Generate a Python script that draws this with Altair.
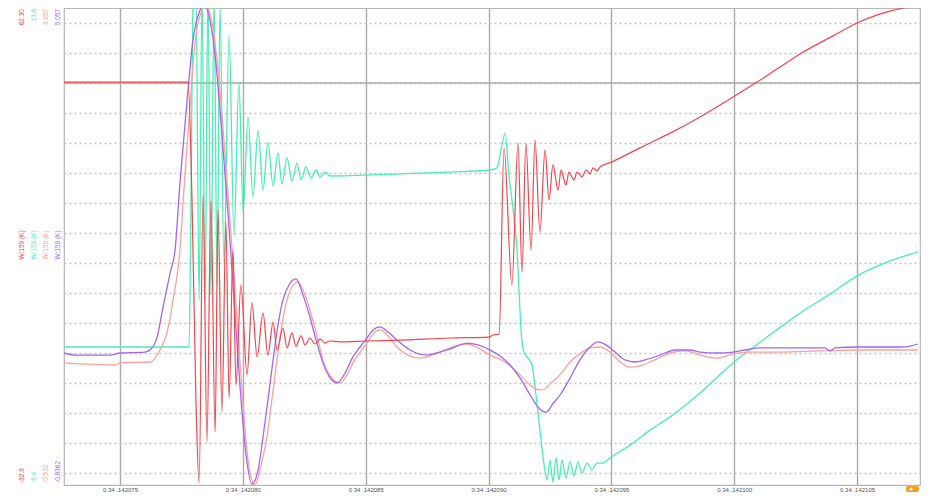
import altair as alt
import pandas as pd

# ---- data (time axis in units of the tick label's last digits, value in grid divisions) ----
red_t = [72.72, 77.73, 77.77, 77.93, 78.09, 78.22, 78.38, 78.54, 78.70, 78.87, 78.99, 79.15, 79.31, 79.44,
         79.60, 79.72, 79.92, 80.17, 80.37, 80.58, 80.82, 81.02, 81.23, 81.39, 81.63, 81.80, 82.00, 82.16,
         82.37, 82.53, 82.73, 82.94, 83.14, 83.34, 83.55, 83.95, 85.05, 86.40, 88.43, 90.02, 90.18, 90.43,
         90.63, 90.95, 91.20, 91.36, 91.52, 91.73, 91.89, 92.09, 92.30, 92.46, 92.62, 92.83, 92.95, 93.15,
         93.27, 93.48, 93.60, 93.80, 93.97, 94.13, 94.25, 94.41, 94.54, 95.02, 95.76, 96.57, 97.39, 98.61,
         99.95, 100.93, 101.86, 102.68, 104.02, 105.00, 106.22, 107.48]
red_v = [13.43, 13.43, 13.43, 9.5, 2.83, 0.07, 9.67, 1.43, 9.5, 1.77, 9.17, 2.43, 8.77, 2.9,
         7.83, 3.33, 6.67, 3.67, 6.07, 4.27, 5.73, 4.33, 5.43, 4.5, 5.23, 4.57, 5.07, 4.63,
         4.97, 4.67, 4.9, 4.7, 4.87, 4.73, 4.8, 4.77, 4.8, 4.83, 4.9, 4.93, 5.0, 5.03,
         11.23, 6.67, 11.4, 7.1, 11.4, 7.83, 11.5, 8.43, 11.17, 9.5, 10.67, 9.83, 10.5, 10.0,
         10.43, 10.17, 10.43, 10.27, 10.5, 10.37, 10.57, 10.47, 10.6, 10.77, 11.07, 11.4, 11.73, 12.27,
         12.93, 13.43, 13.93, 14.37, 14.97, 15.4, 15.77, 16.0]

green_t = [72.72, 77.81, 77.89, 77.97, 78.09, 78.22, 78.34, 78.46, 78.58, 78.70, 78.83, 78.95, 79.07, 79.23,
           79.44, 79.64, 79.84, 80.01, 80.21, 80.41, 80.62, 80.82, 81.02, 81.23, 81.43, 81.59, 81.80, 82.00,
           82.20, 82.37, 82.57, 82.77, 82.98, 83.14, 83.34, 83.55, 86.40, 88.43, 90.06, 90.34, 90.51, 90.67,
           90.83, 91.00, 91.16, 91.24, 91.32, 91.44, 91.61, 91.77, 91.93, 92.09, 92.26, 92.38, 92.50, 92.62,
           92.75, 92.87, 92.99, 93.15, 93.32, 93.48, 93.64, 93.80, 94.01, 94.21, 94.41, 94.66, 94.94, 95.76,
           96.57, 97.39, 98.61, 99.95, 101.33, 102.68, 104.02, 105.00, 106.22, 107.48]
green_v = [4.6, 4.6, 9.5, 16.33, 16.5, 6.17, 16.5, 6.17, 16.5, 6.33, 16.33, 6.67, 16.0, 7.33,
           15.0, 8.33, 13.43, 9.1, 12.27, 9.6, 11.83, 9.83, 11.43, 9.97, 11.07, 10.03, 10.9, 10.13,
           10.73, 10.17, 10.6, 10.23, 10.5, 10.27, 10.43, 10.3, 10.37, 10.43, 10.5, 10.57, 11.17, 11.73,
           10.33, 9.17, 7.83, 6.5, 5.17, 4.43, 4.23, 4.0, 3.0, 1.83, 0.67, 0.17, 0.83, 0.1,
           0.9, 0.17, 0.83, 0.23, 0.77, 0.3, 0.77, 0.4, 0.73, 0.5, 0.73, 0.73, 0.9, 1.33,
           1.83, 2.27, 3.07, 4.07, 4.93, 5.73, 6.43, 6.97, 7.43, 7.77]

salmon_t = [72.72, 74.80, 75.00, 76.22, 76.63, 76.91, 77.16, 77.44, 77.60, 77.85, 78.09, 78.38, 78.50, 78.74,
            78.99, 79.23, 79.48, 79.72, 79.97, 80.21, 80.49, 80.74, 80.98, 81.19, 81.39, 81.59, 81.80, 82.00,
            82.24, 82.53, 82.81, 83.06, 83.26, 83.59, 83.95, 84.24, 84.48, 84.77, 85.05, 85.30, 85.58, 85.91,
            86.27, 86.72, 87.21, 87.62, 88.02, 88.63, 89.12, 89.57, 90.06, 90.67, 91.28, 91.69, 91.89, 92.09,
            92.30, 92.50, 92.91, 93.32, 93.72, 94.13, 94.54, 94.94, 95.35, 95.76, 96.16, 96.77, 97.39, 98.00,
            98.61, 99.30, 99.95, 100.64, 101.86, 103.49, 105.00, 107.48]
salmon_v = [4.07, 4.0, 4.07, 4.1, 4.5, 5.07, 6.17, 7.83, 9.83, 12.67, 15.0, 15.9, 16.0, 15.43,
            13.83, 11.5, 8.77, 6.0, 3.1, 0.83, 0.0, 0.67, 1.6, 2.9, 4.17, 5.33, 6.17, 6.6,
            6.77, 6.33, 5.6, 4.83, 4.17, 3.6, 3.4, 3.67, 4.07, 4.43, 4.73, 5.03, 5.17, 4.97,
            4.6, 4.33, 4.23, 4.3, 4.43, 4.63, 4.7, 4.57, 4.33, 4.1, 3.67, 3.33, 3.22, 3.17,
            3.2, 3.37, 3.67, 4.1, 4.37, 4.57, 4.6, 4.43, 4.1, 3.93, 3.97, 4.17, 4.4, 4.47,
            4.33, 4.23, 4.37, 4.43, 4.43, 4.47, 4.5, 4.5]

purple_t = [72.72, 73.17, 74.59, 75.00, 76.02, 76.22, 76.51, 76.75, 77.04, 77.24, 77.44, 77.73, 77.97, 78.26,
            78.42, 78.66, 78.91, 79.15, 79.40, 79.64, 79.88, 80.13, 80.37, 80.62, 80.82, 81.02, 81.23, 81.43,
            81.63, 81.88, 82.16, 82.45, 82.73, 82.98, 83.26, 83.55, 83.83, 84.16, 84.48, 84.77, 85.05, 85.30,
            85.58, 85.91, 86.27, 86.80, 87.50, 87.90, 88.31, 88.72, 89.12, 89.57, 90.06, 90.47, 90.87, 91.28,
            91.69, 92.01, 92.18, 92.30, 92.42, 92.58, 92.91, 93.32, 93.72, 94.13, 94.45, 94.78, 95.15, 95.55,
            95.96, 96.37, 96.98, 97.59, 98.20, 98.61, 99.30, 99.95, 100.44, 101.05, 102.68, 103.69, 103.90,
            104.10, 105.00, 106.75, 107.15, 107.48]
purple_v = [4.4, 4.33, 4.33, 4.4, 4.43, 4.5, 4.93, 5.93, 7.07, 7.83, 10.07, 12.83, 14.83, 15.83,
            16.0, 15.5, 14.0, 11.67, 9.0, 6.17, 3.33, 1.0, 0.03, 0.5, 1.6, 2.83, 4.17, 5.33,
            6.17, 6.67, 6.87, 6.33, 5.6, 4.83, 4.07, 3.57, 3.4, 3.73, 4.27, 4.6, 4.9, 5.17,
            5.27, 5.1, 4.83, 4.5, 4.33, 4.4, 4.5, 4.63, 4.73, 4.67, 4.5, 4.3, 4.0, 3.57,
            3.0, 2.6, 2.47, 2.43, 2.47, 2.67, 3.0, 3.57, 4.17, 4.6, 4.77, 4.67, 4.43, 4.17,
            4.1, 4.17, 4.33, 4.5, 4.5, 4.43, 4.4, 4.43, 4.5, 4.57, 4.57, 4.57, 4.47,
            4.57, 4.6, 4.6, 4.63, 4.7]

x_ticks = [75, 80, 85, 90, 95, 100, 105]
y_grid = [round(0.4 + k, 1) for k in range(16)]
ref_level = [13.4]

top_labels = ["62.30", "13.6", "3.957", "5.057"]
mid_labels = ["W:159 (K)", "W:159 (K)", "W:159 (K)", "W:159 (K)"]
bot_labels = ["-82.8", "-6.4", "-0.522", "-0.8362"]

RED, GREEN, SALMON, PURPLE = "#f4444c", "#48efb2", "#ffa09d", "#a266f5"
label_colors = [RED, GREEN, SALMON, PURPLE]


def frame(t, v):
    return pd.DataFrame({"t": t, "v": v, "i": list(range(len(t)))})


x_scale = alt.Scale(domain=[72.72, 107.56], nice=False, zero=False)
y_scale = alt.Scale(domain=[0, 15.9], nice=False, zero=False)

x_axis = alt.Axis(values=x_ticks, grid=True, gridColor="#aaaaaa", gridWidth=1.4,
                  labelExpr="'0.34 .142' + format(datum.value, '03d')",
                  labelFontSize=6, labelColor="#555555", labelFont="Liberation Sans",
                  ticks=False, domain=False, title=None, labelPadding=1, labelBaseline="top")
y_axis = alt.Axis(values=y_grid, grid=True, gridColor="#c2c2c2", gridWidth=1.3, gridDash=[2, 3],
                  labels=False, ticks=False, domain=False, title=None)


def series(t, v, color, width=1.3):
    return alt.Chart(frame(t, v)).mark_line(
        color=color, strokeWidth=width, clip=True, interpolate="monotone"
    ).encode(
        x=alt.X("t:Q", scale=x_scale, axis=x_axis),
        y=alt.Y("v:Q", scale=y_scale, axis=y_axis),
        order="i:Q",
    )


ref_rule = alt.Chart(pd.DataFrame({"v": ref_level})).mark_rule(color="#aaaaaa", strokeWidth=1.4).encode(
    y=alt.Y("v:Q", scale=y_scale, axis=y_axis)
)

layers = [ref_rule,
          series(green_t, green_v, GREEN),
          series(salmon_t, salmon_v, SALMON),
          series(purple_t, purple_v, PURPLE),
          series(red_t, red_v, RED, 1.2)]

col_x = [-42, -30, -18, -6]
for texts, yy, al in [(top_labels, 1, "right"), (mid_labels, 237, "center"), (bot_labels, 475, "left")]:
    for txt, cx, col in zip(texts, col_x, label_colors):
        layers.append(
            alt.Chart(pd.DataFrame({"a": [0]})).mark_text(
                text=txt, angle=270, align=al, baseline="middle", fontSize=6.5,
                font="Liberation Sans", color=col, clip=False
            ).encode(x=alt.value(cx), y=alt.value(yy))
        )

# small orange control at bottom right
layers.append(
    alt.Chart(pd.DataFrame({"a": [0]})).mark_rect(color="#f5a020", cornerRadius=2, clip=False).encode(
        x=alt.value(842), x2=alt.value(855), y=alt.value(478), y2=alt.value(484))
)
layers.append(
    alt.Chart(pd.DataFrame({"a": [0]})).mark_text(text="▸", color="white", fontSize=7, clip=False,
                                                   align="center", baseline="middle").encode(
        x=alt.value(848), y=alt.value(481))
)

chart = alt.layer(*layers).properties(
    width=856, height=477,
    autosize=alt.AutoSizeParams(type="none"),
    padding={"left": 56, "top": 0, "right": 10, "bottom": 7},
    background="white",
).configure_view(stroke="#b8b8b8", strokeWidth=1.2)

chart.save("out.html", embed_options={"renderer": "svg", "actions": False})
